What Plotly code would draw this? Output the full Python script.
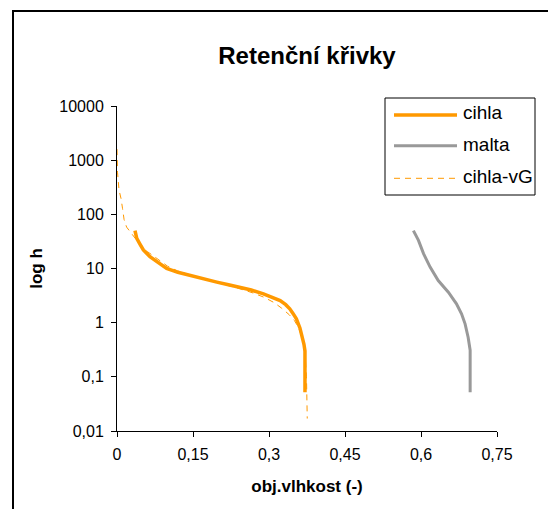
import plotly.graph_objects as go

# ---------------- data ----------------
cihla_x = [0.0355, 0.039, 0.045, 0.052, 0.065, 0.078, 0.098, 0.12, 0.144, 0.17,
           0.197, 0.22, 0.243, 0.265, 0.289, 0.305, 0.322, 0.333, 0.341, 0.348,
           0.354, 0.361, 0.366, 0.369, 0.371, 0.371, 0.371, 0.371]
cihla_h = [50, 36, 28.5, 22, 16.5, 13.5, 10, 8.5, 7.4, 6.4,
           5.6, 5.0, 4.5, 4.0, 3.4, 3.0, 2.55, 2.15, 1.8, 1.45,
           1.18, 0.8, 0.55, 0.4, 0.3, 0.15, 0.08, 0.052]

malta_x = [0.585, 0.595, 0.605, 0.618, 0.634, 0.654, 0.670, 0.680, 0.687,
           0.693, 0.697, 0.697, 0.697]
malta_h = [50, 33, 18.8, 10.6, 6.0, 3.66, 2.23, 1.46, 0.95,
           0.54, 0.31, 0.12, 0.052]

vg_x = [0.0, 0.0005, 0.001, 0.004, 0.008, 0.011, 0.014, 0.019, 0.029, 0.036,
        0.045, 0.06, 0.08, 0.10, 0.12, 0.15, 0.20, 0.24, 0.27, 0.29,
        0.31, 0.325, 0.34, 0.35, 0.358, 0.365, 0.369, 0.372, 0.374, 0.375, 0.3755]
vg_h = [1600, 900, 600, 280, 195, 127, 80, 58, 44, 36,
        28, 20.5, 14.8, 11, 9.0, 7.3, 5.4, 4.3, 3.5, 2.95,
        2.35, 1.85, 1.4, 1.1, 0.82, 0.55, 0.35, 0.2, 0.1, 0.05, 0.017]

x_ticks = [0, 0.15, 0.3, 0.45, 0.6, 0.75]
x_ticktext = ["0", "0,15", "0,3", "0,45", "0,6", "0,75"]
y_ticks = [0.01, 0.1, 1, 10, 100, 1000, 10000]
y_ticktext = ["0,01", "0,1", "1", "10", "100", "1000", "10000"]

series_names = ["cihla", "malta", "cihla-vG"]
ORANGE = "#FF9900"
GREY = "#999999"
FONT = "Liberation Sans, Arial, sans-serif"

# ---------------- figure ----------------
# the page body has an 8px default margin, so the figure is sized/offset to
# fill the 556x509 window exactly
OFF = 8
WIN_W, WIN_H = 556, 509
W, H = WIN_W - OFF, WIN_H - OFF
# plot area in window pixels: x 117..497, y 106..431
ML, MT = 117 - OFF, 106 - OFF
MR, MB = WIN_W - 497, WIN_H - 431
PW, PH = W - ML - MR, H - MT - MB


def px(x):
    """window x pixel -> paper coordinate"""
    return (x - OFF - ML) / PW


def py(y):
    """window y pixel -> paper coordinate"""
    return (H - MB - (y - OFF)) / PH


fig = go.Figure()
fig.add_trace(go.Scatter(x=cihla_x, y=cihla_h, name=series_names[0], mode="lines",
                         line=dict(color=ORANGE, width=3.5), showlegend=False))
fig.add_trace(go.Scatter(x=malta_x, y=malta_h, name=series_names[1], mode="lines",
                         line=dict(color=GREY, width=3), showlegend=False))
fig.add_trace(go.Scatter(x=vg_x, y=vg_h, name=series_names[2], mode="lines",
                         line=dict(color=ORANGE, width=1, dash="6px,5px"), showlegend=False))

axis_common = dict(showline=True, linecolor="black", linewidth=1, ticks="outside",
                   ticklen=5, tickcolor="black", tickwidth=1, showgrid=False,
                   zeroline=False, tickfont=dict(family=FONT, size=16, color="black"),
                   mirror=False, ticklabelstandoff=4)

fig.update_xaxes(range=[0, 0.75], tickvals=x_ticks, ticktext=x_ticktext,
                 title=dict(text="obj.vlhkost (-)", standoff=17,
                            font=dict(family=FONT, size=17, color="black", weight="bold")),
                 **axis_common)
fig.update_yaxes(type="log", range=[-2, 4], tickvals=y_ticks, ticktext=y_ticktext,
                 title=dict(text="log h", standoff=12,
                            font=dict(family=FONT, size=17, color="black", weight="bold")),
                 **axis_common)

# outer chart border (extends beyond the visible picture on right/bottom)
shapes = [dict(type="rect", xref="paper", yref="paper",
               x0=px(13), x1=px(WIN_W + 40), y0=py(WIN_H + 40), y1=py(11),
               line=dict(color="black", width=2), fillcolor="rgba(0,0,0,0)", layer="below")]

# legend box drawn to match the reference (long line samples)
shapes.append(dict(type="rect", xref="paper", yref="paper",
                   x0=px(385), x1=px(535), y0=py(195), y1=py(98),
                   line=dict(color="black", width=1), fillcolor="white", layer="above"))
legend_rows = [(series_names[0], ORANGE, 3.5, "solid", 115, 112.7),
               (series_names[1], GREY, 3, "solid", 145.7, 144),
               (series_names[2], ORANGE, 1, "6px,5px", 178.3, 176.7)]
annotations = []
for name, col, wdt, dash, ly, ty in legend_rows:
    shapes.append(dict(type="line", xref="paper", yref="paper",
                       x0=px(394), x1=px(457), y0=py(ly), y1=py(ly),
                       line=dict(color=col, width=wdt, dash=dash), layer="above"))
    annotations.append(dict(text=name, xref="paper", yref="paper", x=px(461),
                            y=py(ty), xanchor="left", yanchor="middle", showarrow=False,
                            font=dict(family=FONT, size=19, color="black")))

fig.update_layout(
    width=W, height=H,
    margin=dict(l=ML, r=MR, t=MT, b=MB, pad=0),
    paper_bgcolor="white", plot_bgcolor="white",
    title=dict(text="Retenční křivky", x=0.5, xref="paper", xanchor="center",
               y=1 - (55.7 - OFF) / H, yref="container", yanchor="middle",
               font=dict(family=FONT, size=24, color="black", weight="bold")),
    shapes=shapes, annotations=annotations, showlegend=False,
)

fig.write_html("out.html")
